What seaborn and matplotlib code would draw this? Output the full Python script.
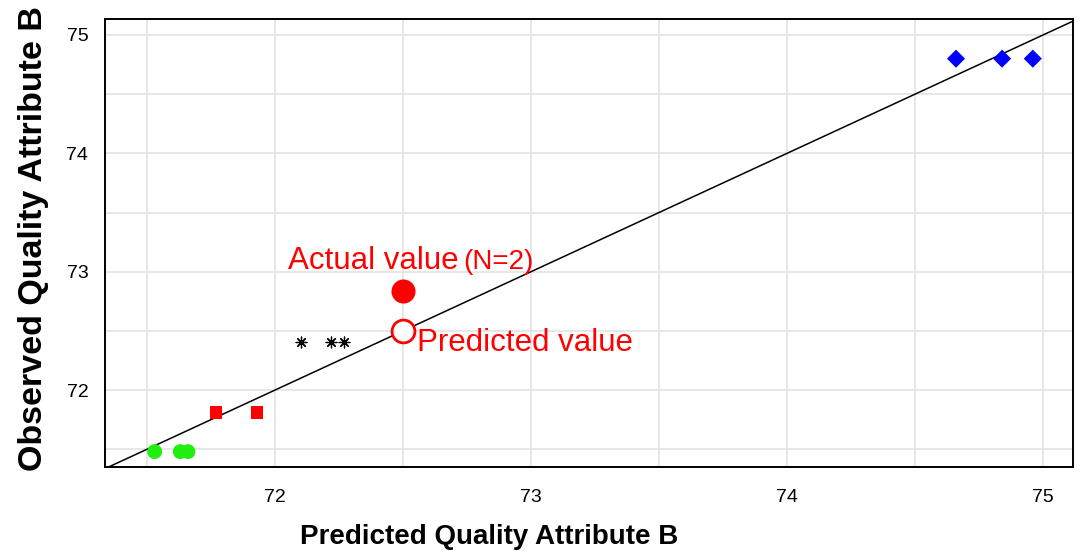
import numpy as np
import pandas as pd
import matplotlib
matplotlib.use("Agg")
import matplotlib.pyplot as plt
import seaborn as sns
from matplotlib.ticker import MultipleLocator

# predicted / observed values per group
green_pred = [71.53, 71.63, 71.66]
green_obs = [71.48, 71.48, 71.48]
square_pred = [71.77, 71.93]
square_obs = [71.81, 71.81]
star_pred = [72.10, 72.22, 72.27]
star_obs = [72.41, 72.41, 72.41]
diamond_pred = [74.66, 74.84, 74.96]
diamond_obs = [74.80, 74.80, 74.80]
actual_pred, actual_obs = [72.50], [72.84]
predicted_pred, predicted_obs = [72.50], [72.50]

df = pd.concat([
    pd.DataFrame({"pred": green_pred, "obs": green_obs, "grp": "green"}),
    pd.DataFrame({"pred": square_pred, "obs": square_obs, "grp": "square"}),
    pd.DataFrame({"pred": diamond_pred, "obs": diamond_obs, "grp": "diamond"}),
], ignore_index=True)

sns.set_style("white")
plt.rcParams['font.family'] = ['Liberation Sans', 'DejaVu Sans']
plt.rcParams['text.color'] = 'black'
plt.rcParams['axes.labelcolor'] = 'black'
plt.rcParams['xtick.color'] = 'black'
plt.rcParams['ytick.color'] = 'black'

fig = plt.figure(figsize=(10.8, 5.51), dpi=100)
ax = fig.add_axes([105 / 1080, 1 - 467 / 551, 968 / 1080, 448 / 551])

xmin, xmax = 71.336, 75.117
ymin, ymax = 71.35, 75.135

# grid every 0.5
for v in np.arange(71.5, 75.01, 0.5):
    ax.axvline(v, color="#e3e3e3", lw=1.2, zorder=0)
    ax.axhline(v, color="#e3e3e3", lw=1.2, zorder=0)

# identity line
ax.plot([xmin, xmax], [xmin, xmax], color="black", lw=1.1, zorder=1)

sns.scatterplot(data=df, x="pred", y="obs", hue="grp", style="grp", size="grp",
                palette={"green": "#22ee11", "square": "#ff0000", "diamond": "#0000ff"},
                markers={"green": "o", "square": "s", "diamond": "D"},
                sizes={"green": 115, "square": 80, "diamond": 85},
                linewidth=0, legend=False, ax=ax, zorder=3)

sns.scatterplot(x=star_pred, y=star_obs, color="black", s=60, marker=(8, 2, 0),
                linewidth=0.9, ax=ax, zorder=3)

sns.scatterplot(x=actual_pred, y=actual_obs, color="#ff0000", s=300, marker="o",
                linewidth=0, ax=ax, zorder=3)
sns.scatterplot(x=predicted_pred, y=predicted_obs, s=270, marker="o", facecolor="white",
                edgecolor="#ff0000", linewidth=2, ax=ax, zorder=3)

ax.text(72.05, 73.02, "Actual value", color="#ff0000", fontsize=22.5, va="baseline")
ax.text(72.734, 73.02, "(N=2)", color="#ff0000", fontsize=20, va="baseline")
ax.text(72.555, 72.40, "Predicted value", color="#ff0000", fontsize=22.5, va="center")

ax.set_xlim(xmin, xmax)
ax.set_ylim(ymin, ymax)
ax.xaxis.set_major_locator(MultipleLocator(1))
ax.xaxis.set_minor_locator(MultipleLocator(0.5))
ax.yaxis.set_major_locator(MultipleLocator(1))
ax.yaxis.set_minor_locator(MultipleLocator(0.5))
ax.tick_params(which="both", direction="inout", length=8, width=1.2, labelsize=14, color="black")
ax.tick_params(axis="x", which="major", pad=12)
ax.tick_params(axis="y", which="major", pad=8)

for sp in ax.spines.values():
    sp.set_color("black")
    sp.set_linewidth(1.4)

ax.set_xlabel("Predicted Quality Attribute B", fontsize=20, fontweight="bold")
ax.set_ylabel("Observed Quality Attribute B", fontsize=24.5, fontweight="bold")
ax.xaxis.set_label_coords(0.397, -0.128)
ax.yaxis.set_label_coords(-0.058, 0.509)

fig.savefig("out.png", dpi=100)
